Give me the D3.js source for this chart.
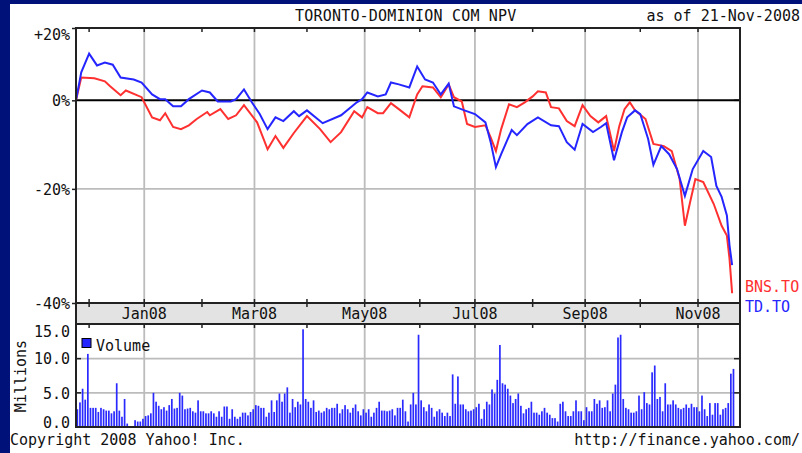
<!DOCTYPE html>
<html>
<head>
<meta charset="utf-8">
<script src="https://cdn.jsdelivr.net/npm/d3@7"></script>
<style>
  body { margin: 0; background: #00127a; }
  svg text { font-family: "DejaVu Sans Mono", monospace; font-size: 15px; fill: #111; }
</style>
</head>
<body>
<div id="chart"></div>
<script>
var width = 802, height = 453;

// trading-day index of the first session of each month, Dec07 .. Nov08
var monthTicks = [5, 26, 48, 68, 88, 110, 131, 152, 174, 194, 215, 237];
var monthLabels = ["", "Jan08", "", "Mar08", "", "May08", "", "Jul08", "", "Sep08", "", "Nov08"];

// price change in % against the first day, [trading day, %]
var tdPoints = [[0,0],[2,7.3],[5,12.5],[8,9.2],[11,10.0],[14,9.4],[17,5.9],[22,5.4],[25,4.6],[29,1.5],[32,0.3],[34,0.3],
  [37,-1.5],[40,-1.5],[43,0.3],[48,2.5],[51,2.0],[54,-0.3],[59,-0.3],[61,0.3],[64,2.8],[67,-0.5],[70,-3.4],[73,-7.0],
  [76,-4.2],[79,-5.1],[83,-2.7],[85,-3.9],[88,-2.5],[94,-5.6],[101,-3.7],[107,-0.5],[109,0.3],[111,2.0],[115,1.0],
  [118,1.5],[120,4.6],[123,4.1],[127,3.3],[130,8.9],[133,5.4],[136,4.6],[139,1.5],[142,4.3],[144,-1.5],[148,-2.5],
  [152,-3.4],[156,-5.4],[158,-10.0],[160,-15.5],[162,-12.7],[166,-7.2],[168,-8.4],[172,-5.8],[176,-4.2],[181,-6.1],
  [184,-6.3],[187,-10.0],[190,-11.7],[193,-5.8],[197,-7.7],[200,-6.5],[202,-5.6],[205,-14.0],[208,-7.7],[210,-4.2],
  [213,-2.5],[215,-3.4],[218,-9.3],[220,-15.0],[223,-10.9],[226,-12.7],[229,-15.9],[232,-21.4],[235,-15.9],
  [239,-12.0],[242,-13.3],[244,-19.4],[246,-21.6],[248,-25.2],[249,-30.6],[250,-34.0]];

var bnsPoints = [[0,0],[2,5.9],[7,5.7],[11,4.9],[13,3.6],[17,1.3],[19,2.5],[25,0.8],[29,-4.2],[32,-4.9],[34,-3.2],
  [37,-6.5],[40,-7.0],[43,-6.1],[46,-4.6],[50,-2.9],[51,-3.7],[55,-2.2],[58,-4.6],[61,-3.7],[64,-1.2],[69,-5.4],
  [73,-11.6],[76,-8.6],[79,-11.3],[83,-7.9],[88,-3.9],[93,-7.0],[97,-10.0],[101,-7.7],[106,-2.7],[109,-4.2],
  [111,-1.7],[115,-3.2],[117,-3.2],[120,-0.7],[123,-2.2],[127,-4.2],[130,1.5],[132,3.6],[136,3.3],[139,0.8],
  [142,4.1],[144,0.8],[147,-0.3],[149,-5.8],[152,-6.5],[156,-6.1],[158,-8.9],[160,-12.0],[162,-7.0],[165,-1.0],
  [168,-1.7],[171,-0.5],[174,1.0],[176,2.3],[179,2.0],[181,-1.7],[184,-2.0],[187,-5.1],[190,-6.3],[193,-1.2],
  [196,-3.9],[199,-5.4],[202,-3.9],[205,-12.0],[207,-6.3],[209,-2.2],[211,-0.5],[213,-2.5],[217,-4.6],[220,-10.4],
  [224,-10.9],[227,-12.0],[230,-18.0],[232,-27.1],[234,-22.6],[236,-18.0],[239,-18.6],[243,-23.0],[246,-27.1],
  [248,-28.9],[249,-32.9],[250,-38.5]];

// daily volume in millions, one value per trading day (0 .. 250)
var volume = [2.6,3.6,5.6,4.0,10.7,2.8,2.8,2.8,2.2,2.8,2.6,2.4,2.4,2.0,2.3,6.4,2.4,1.5,4.1,0.5,
  0,0,1.0,0.8,0.8,1.2,1.6,1.7,2.0,5.0,3.7,3.1,2.6,2.9,2.4,3.2,
  4.1,2.7,2.8,5.0,4.6,2.6,2.7,2.8,2.3,2.1,
  3.9,2.3,2.3,2.0,2.0,2.3,2.0,1.5,2.3,1.5,
  3.0,3.0,1.2,2.6,1.5,1.2,1.5,2.1,2.1,1.7,
  2.2,2.6,3.2,3.1,2.8,2.8,1.5,2.1,3.9,2.2,
  3.9,4.9,3.7,4.9,5.8,2.1,4.1,2.9,3.7,3.3,
  14.3,4.1,3.7,2.8,3.9,2.2,2.4,2.1,2.3,2.8,
  2.6,2.8,2.8,3.4,2.0,2.6,3.2,2.6,2.1,2.8,
  3.3,2.3,1.7,2.6,2.1,2.6,1.5,2.1,2.8,3.7,
  2.4,2.4,2.3,2.4,2.6,1.7,2.8,2.8,4.0,2.3,
  0.8,3.3,5.0,3.3,13.5,3.9,2.9,2.3,3.3,2.8,1.5,2.3,2.6,2.1,1.6,2.1,1.6,7.7,3.4,7.4,3.3,3.3,2.6,2.3,2.4,2.6,
  2.9,3.4,1.2,2.6,3.7,3.3,5.5,4.9,6.9,12.0,6.4,6.2,5.6,4.6,3.5,4.1,4.9,3.1,2.0,2.6,2.8,3.7,2.1,
  2.1,1.8,2.3,2.8,2.1,1.8,1.3,1.3,0.8,3.4,3.7,2.3,1.6,1.6,2.3,3.9,2.3,2.3,
  1.0,2.9,2.3,2.3,4.1,3.4,3.9,2.8,2.9,3.9,2.3,4.9,6.2,13.1,13.5,4.1,
  2.8,2.6,2.1,2.1,2.3,4.6,2.6,5.1,3.5,3.3,8.0,9.0,4.1,4.4,2.3,6.4,
  3.3,3.3,3.9,3.3,2.8,2.6,2.8,3.3,2.8,3.4,2.9,2.9,2.3,4.6,2.6,1.6,3.5,1.8,3.5,3.5,1.8,2.6,2.8,3.5,7.8,8.5];

var priceTicks = [20, 0, -20, -40];
var priceTickLabels = ["+20%", "0%", "-20%", "-40%"];
var volumeTicks = [0, 5, 10, 15];

var left = 76, right = 740;
var priceTop = 28, priceBottom = 303, volTop = 324, volBottom = 427;

var svg = d3.select("#chart").append("svg")
    .attr("width", width)
    .attr("height", height);

svg.append("rect").attr("width", width).attr("height", height).attr("fill", "#00127a");
svg.append("rect").attr("x", 10).attr("y", 4).attr("width", width - 10).attr("height", height - 4).attr("fill", "#fff");

// scales
var x = d3.scaleLinear().domain([0, 253]).range([left, right]);
var y = d3.scaleLog().domain([0.6, 1.2]).range([priceBottom, priceTop]);
var yVol = d3.scaleLinear().domain([0, 15]).range([volBottom, volTop + 0.5]);

function py(p) { return y(1 + p / 100); }

// date band
svg.append("rect").attr("x", left).attr("y", priceBottom).attr("width", right - left)
    .attr("height", volTop - priceBottom).attr("fill", "#e3e3e3");

// gridlines
var grid = svg.append("g").attr("stroke", "#bcbcbc").attr("stroke-width", 1.8);
monthTicks.forEach(function(t, i) {
    if (!monthLabels[i]) return;
    grid.append("line").attr("x1", x(t)).attr("x2", x(t)).attr("y1", priceTop).attr("y2", priceBottom);
    grid.append("line").attr("x1", x(t)).attr("x2", x(t)).attr("y1", volTop).attr("y2", volBottom);
});
grid.append("line").attr("x1", left).attr("x2", right).attr("y1", py(-20)).attr("y2", py(-20));
[5, 10].forEach(function(v) {
    grid.append("line").attr("x1", left).attr("x2", right).attr("y1", yVol(v)).attr("y2", yVol(v));
});

// minor month ticks
var ticks = svg.append("g").attr("stroke", "#222").attr("stroke-width", 1.5);
monthTicks.forEach(function(t) {
    var xx = x(t);
    ticks.append("line").attr("x1", xx).attr("x2", xx).attr("y1", priceTop).attr("y2", priceTop + 4);
    ticks.append("line").attr("x1", xx).attr("x2", xx).attr("y1", priceBottom - 4).attr("y2", priceBottom + 4);
    ticks.append("line").attr("x1", xx).attr("x2", xx).attr("y1", volTop).attr("y2", volTop + 4);
});
[py(0), py(-20), yVol(5), yVol(10)].forEach(function(v) {
    ticks.append("line").attr("x1", right - 6).attr("x2", right).attr("y1", v).attr("y2", v);
});
[yVol(5), yVol(10)].forEach(function(v) {
    ticks.append("line").attr("x1", left).attr("x2", left + 5).attr("y1", v).attr("y2", v);
});

// zero line
svg.append("line").attr("x1", left).attr("x2", right).attr("y1", py(0)).attr("y2", py(0))
    .attr("stroke", "#000").attr("stroke-width", 2);

// volume bars
svg.append("g").selectAll("rect")
    .data(volume)
    .join("rect")
    .attr("x", function(d, i) { return x(i) + 0.5; })
    .attr("width", 1.7)
    .attr("y", function(d) { return yVol(d); })
    .attr("height", function(d) { return yVol(0) - yVol(d); })
    .attr("fill", "#2a2aff");

// price lines
var line = d3.line()
    .x(function(d) { return x(d[0]); })
    .y(function(d) { return py(d[1]); });

svg.append("path").datum(bnsPoints).attr("d", line)
    .attr("fill", "none").attr("stroke", "#ff3030").attr("stroke-width", 2);
svg.append("path").datum(tdPoints).attr("d", line)
    .attr("fill", "none").attr("stroke", "#2525ff").attr("stroke-width", 2);

// borders
var border = svg.append("g").attr("fill", "none").attr("stroke", "#222").attr("stroke-width", 2);
border.append("rect").attr("x", left).attr("y", priceTop).attr("width", right - left).attr("height", volBottom - priceTop);
border.append("line").attr("x1", left).attr("x2", right).attr("y1", priceBottom).attr("y2", priceBottom);
border.append("line").attr("x1", left).attr("x2", right).attr("y1", volTop).attr("y2", volTop);

// price axis labels
var priceAxis = svg.append("g")
    .attr("transform", "translate(" + left + ",0)")
    .call(d3.axisLeft(y)
        .tickValues(priceTicks.map(function(p) { return 1 + p / 100; }))
        .tickFormat(function(d, i) { return priceTickLabels[i]; })
        .tickSize(4)
        .tickPadding(2));
priceAxis.select(".domain").remove();
priceAxis.selectAll("line").attr("stroke", "#222").attr("stroke-width", 1.5);
priceAxis.selectAll("text").attr("font-size", null).attr("font-family", null)
    .attr("dy", function(d, i) { return i === 0 ? "0.78em" : "0.35em"; });

// volume axis labels
var volAxis = svg.append("g")
    .attr("transform", "translate(" + left + ",0)")
    .call(d3.axisLeft(yVol)
        .tickValues(volumeTicks)
        .tickFormat(d3.format(".1f"))
        .tickSize(0)
        .tickPadding(6));
volAxis.select(".domain").remove();
volAxis.selectAll("text").attr("font-size", null).attr("font-family", null)
    .attr("dy", function(d) { return d === 15 ? "0.8em" : d === 0 ? "0.05em" : "0.35em"; });

// month labels
svg.append("g").selectAll("text")
    .data(monthTicks.filter(function(t, i) { return monthLabels[i]; }))
    .join("text")
    .attr("x", function(d) { return x(d); })
    .attr("y", 319)
    .attr("text-anchor", "middle")
    .text(function(d) { return monthLabels[monthTicks.indexOf(d)]; });

// texts
svg.append("text").attr("x", 295).attr("y", 21).attr("letter-spacing", 0.2).text("TORONTO-DOMINION COM NPV");
svg.append("text").attr("x", 800).attr("y", 21).attr("text-anchor", "end").text("as of 21-Nov-2008");
svg.append("text").attr("x", 745).attr("y", 292).style("fill", "#ff3030").text("BNS.TO");
svg.append("text").attr("x", 745).attr("y", 312).style("fill", "#2525ff").text("TD.TO");
svg.append("text").attr("transform", "translate(26,376) rotate(-90)").attr("text-anchor", "middle").text("Millions");

svg.append("rect").attr("x", 82).attr("y", 338.5).attr("width", 9).attr("height", 9)
    .attr("fill", "#2525ff").attr("stroke", "#000").attr("stroke-width", 1);
svg.append("text").attr("x", 96).attr("y", 351).text("Volume");

svg.append("text").attr("x", 10).attr("y", 445).text("Copyright 2008 Yahoo! Inc.");
svg.append("text").attr("x", 800).attr("y", 445).attr("text-anchor", "end").text("http://finance.yahoo.com/");
</script>
</body>
</html>
